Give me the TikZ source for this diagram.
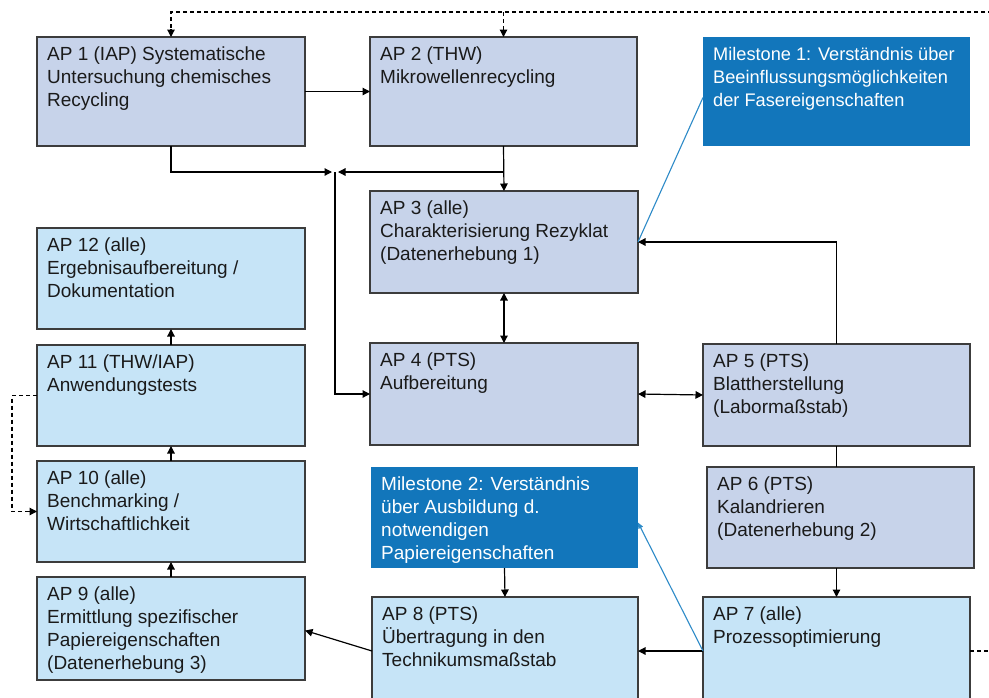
\documentclass[tikz,border=0pt]{standalone}
\usepackage{fontspec}
\setmainfont{Liberation Sans}
\usetikzlibrary{arrows.meta,calc}
\definecolor{lav}{HTML}{C7D3EA}
\definecolor{sky}{HTML}{C6E4F7}
\definecolor{msblue}{HTML}{1276BB}
\definecolor{lnblue}{HTML}{2E8BC8}
\definecolor{bord}{HTML}{3C3C3C}
\definecolor{txtc}{HTML}{1A1A1A}
\newcommand\wpbox[7]{%
  \node[#6, minimum width={(#4-#2)*1pt}, minimum height={(#5-#3)*1pt}] (#1) at ({(#2+#4)/2},{(#3+#5)/2}) {};
  \node[#6txt, anchor=north west] (#1t) at ([shift={(10pt,-10pt)}]#1.north west) {#7};}
\begin{document}
\begin{tikzpicture}[x=1pt,y=-1pt,
  basebox/.style={draw=bord, line width=1.1pt, inner sep=0pt, outer sep=0pt},
  lavbox/.style={basebox, fill=lav},
  skybox/.style={basebox, fill=sky},
  msbox/.style={inner sep=0pt, outer sep=0pt, fill=msblue},
  msnbox/.style={msbox},
  lavboxtxt/.style={inner sep=0pt, align=left, text=txtc, font=\fontsize{19}{23}\selectfont},
  skyboxtxt/.style={lavboxtxt},
  msboxtxt/.style={lavboxtxt, text=white},
  msnboxtxt/.style={lavboxtxt, text=white, font=\fontsize{18.2}{23}\selectfont},
  arr/.style={line width=1.2pt, -{Triangle[length=7.5pt,width=7.5pt]}},
  darr/.style={line width=1.2pt, {Triangle[length=7.5pt,width=7.5pt]}-{Triangle[length=7.5pt,width=7.5pt]}},
  plain/.style={line width=1.2pt},
  dsh/.style={line width=1.1pt, dash pattern=on 4pt off 3pt},
  bl/.style={line width=1.1pt, draw=lnblue}]
\clip (0,0) rectangle (989,697);
\fill[white] (0,0) rectangle (989,697);

\wpbox{ap1}{37}{37}{305}{146}{lavbox}{AP 1 (IAP) Systematische\\Untersuchung chemisches\\Recycling}
\wpbox{ap2}{370}{37}{637}{146}{lavbox}{AP 2 (THW)\\Mikrowellenrecycling}
\wpbox{ms1}{703}{37}{970}{146}{msnbox}{Milestone 1: Verständnis über\\Beeinflussungsmöglichkeiten\\der Fasereigenschaften}
\wpbox{ap3}{370}{191}{638}{293}{lavbox}{AP 3 (alle)\\Charakterisierung Rezyklat\\(Datenerhebung 1)}
\wpbox{ap12}{37}{228}{305}{329}{skybox}{AP 12 (alle)\\Ergebnisaufbereitung /\\Dokumentation}
\wpbox{ap11}{37}{345}{305}{446}{skybox}{AP 11 (THW/IAP)\\Anwendungstests}
\wpbox{ap4}{370}{343}{638}{445}{lavbox}{AP 4 (PTS)\\Aufbereitung}
\wpbox{ap5}{703}{344}{970}{446}{lavbox}{AP 5 (PTS)\\Blattherstellung\\(Labormaßstab)}
\wpbox{ap10}{37}{461}{305}{562}{skybox}{AP 10 (alle)\\Benchmarking /\\Wirtschaftlichkeit}
\wpbox{ms2}{371}{467}{638}{568}{msbox}{Milestone 2: Verständnis\\über Ausbildung d.\\notwendigen\\Papiereigenschaften}
\wpbox{ap6}{707}{467}{974}{568}{lavbox}{AP 6 (PTS)\\Kalandrieren\\(Datenerhebung 2)}
\wpbox{ap9}{37}{577}{305}{680}{skybox}{AP 9 (alle)\\Ermittlung spezifischer\\Papiereigenschaften\\(Datenerhebung 3)}
\wpbox{ap8}{372}{597}{638}{705}{skybox}{AP 8 (PTS)\\Übertragung in den\\Technikumsmaßstab}
\wpbox{ap7}{703}{597}{970}{705}{skybox}{AP 7 (alle)\\Prozessoptimierung}

% top dashed feedback
\coordinate (topR) at (992,12);
\coordinate (rightR) at (992,648);
\draw[dsh] (topR) -| ([yshift=8pt]ap1.north);
\draw[arr] ([yshift=8pt]ap1.north) -- (ap1.north);
\draw[dsh] (ap2.north |- topR) -- ([yshift=8pt]ap2.north);
\draw[arr] ([yshift=8pt]ap2.north) -- (ap2.north);

% AP1 -> AP2
\draw[arr] (ap1.east) -- (ap2.west);
% junction
\coordinate (j) at (335,172);
\draw[arr] (ap1.south) |- ([xshift=-3pt]j);
\draw[arr] (ap2.south |- j) -- ([xshift=3pt]j);
\draw[arr] (j) |- (ap4.west);
\draw[arr] (ap2.south) -- (ap3.north);
% AP3 <-> AP4
\draw[darr] (ap3.south) -- (ap4.north);
% AP4 <-> AP5
\draw[darr] (ap4.east) -- (ap5.west);
% AP5 -> AP3
\draw[arr] (ap5.north) |- (ap3.east);
% milestone 1 link
\draw[bl] (ap3.east) -- ([yshift=-6pt]ms1.west);
% AP5 - AP6
\draw[plain] (ap5.south) -- (ap5.south |- ap6.north);
% AP6 -> AP7
\draw[arr] (ap6.south -| ap7.north) -- (ap7.north);
% AP7 -> AP8
\draw[arr] (ap7.west) -- (ap8.east);
% AP7 -> milestone 2
\draw[bl, -{Triangle[length=6pt,width=5pt]}] (ap7.west) -- ([yshift=-5pt]ms2.east);
% AP7 dashed right
\draw[dsh] (ap7.east) -- (ap7.east -| rightR);
% MS2 -> AP8
\draw[arr] (ms2.south) -- (ap8.north);
% AP8 -> AP9
\draw[arr] (ap8.west) -- ([yshift=-2pt]ap9.east);
% left column chain
\draw[arr] (ap9.north) -- (ap10.south);
\draw[arr] (ap10.north) -- (ap11.south);
\draw[arr] (ap11.north) -- (ap12.south);
% left dashed
\draw[dsh] (ap11.west) -- ++(-25,0) |- ([xshift=-8pt]ap10.west);
\draw[arr] ([xshift=-8pt]ap10.west) -- (ap10.west);
\end{tikzpicture}
\end{document}
